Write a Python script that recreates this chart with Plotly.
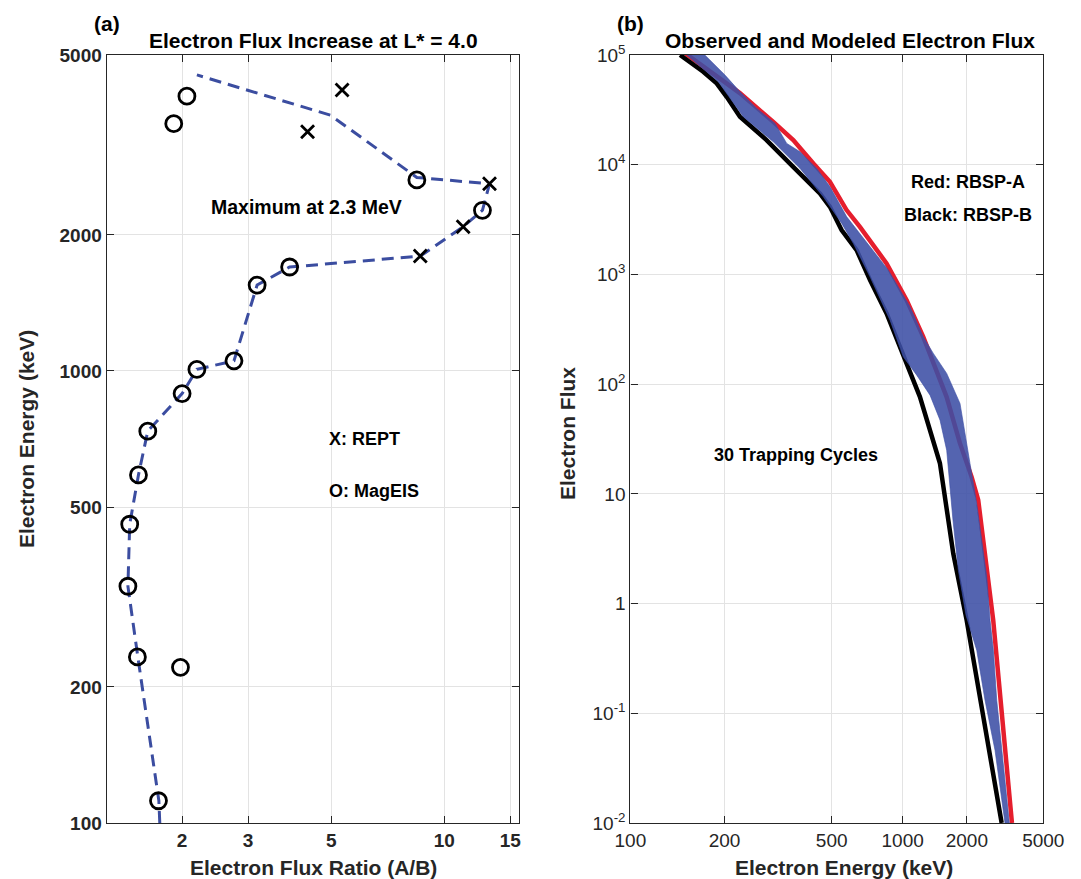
import numpy as np
import plotly.graph_objects as go

# ---------------- Panel (a): flux ratio vs energy ----------------
mageis_ratio = [1.73, 1.52, 1.98, 1.434, 1.45, 1.53, 1.62, 2.0, 2.19, 2.75, 3.17, 3.87, 8.45, 12.64, 1.90, 2.06]
mageis_energy = [112, 233, 221, 334, 458, 589, 736, 891, 1008, 1053, 1549, 1698, 2646, 2267, 3524, 4055]

rept_ratio = [8.63, 11.23, 13.2, 4.32, 5.34]
rept_energy = [1795, 2085, 2594, 3381, 4184]

trend_ratio = [1.744, 1.734, 1.524, 1.434, 1.45, 1.53, 1.62, 2.0, 2.19, 2.75, 3.17, 3.87, 8.63, 11.23, 12.64, 13.2, 8.45, 4.97, 2.19]
trend_energy = [100, 112, 233, 334, 458, 589, 736, 891, 1008, 1053, 1549, 1698, 1795, 2085, 2267, 2594, 2680, 3680, 4518]

ratio_ticks = [2, 3, 5, 10, 15]
energy_ticks_a = [100, 200, 500, 1000, 2000, 5000]

# ---------------- Panel (b): observed and modeled flux ----------------
rbspa_energy = [147, 226, 298, 354, 423, 492, 575, 653, 849, 1042, 1240, 1595, 1849, 2110, 2276, 2711, 3390]
rbspa_flux = [1.05e5, 44950, 24600, 16760, 10270, 6980, 3860, 2716, 1260, 583, 270, 76.6, 29, 14.3, 8.8, 0.706, 0.01]

rbspb_energy = [142.4, 169.5, 188, 203.4, 226.2, 281.6, 353.8, 448.8, 492.1, 548.5, 632.7, 720.6, 849.3, 1042, 1197, 1483, 1717, 1995, 2996]
rbspb_flux = [1.0e5, 70300, 55100, 41600, 27330, 16760, 9570, 5475, 4132, 2534, 1665, 887, 441, 154, 76.6, 19, 2.86, 0.706, 0.01]

# envelope of the 30 trapping-cycle model curves
model_low_energy = [147.7, 190.5, 232.4, 298.1, 375.7, 463.0, 549.3, 613.1, 720.6, 879.3, 1006.8, 1157.6, 1332.8, 1484.6, 1597, 1656, 1712, 1817, 1981, 2238, 2463, 2769, 3118]
model_low_flux = [1.034e5, 56990, 27330, 16170, 9253, 5099, 2917, 1917, 951, 383.2, 177.4, 120.8, 79.4, 46.97, 25.02, 11.58, 5.758, 2.016, 0.7841, 0.3761, 0.1316, 0.04609, 0.00996]
model_high_energy = [169.5, 200.7, 226.3, 259.4, 302.5, 334.4, 375.7, 436.1, 492.4, 575.7, 643.2, 864.3, 1079, 1241, 1381, 1597, 1851, 1996, 2072, 2238, 2370, 2513, 2612, 2715, 2826, 2999, 3285]
model_high_flux = [1.034e5, 65580, 46190, 32610, 23790, 15640, 13110, 9253, 6286, 3350, 2481, 1094, 506.6, 269.9, 190.5, 125.2, 66.7, 28.8, 18.93, 8.175, 4.055, 1.752, 0.7059, 0.3761, 0.1316, 0.04609, 0.00996]

energy_ticks_b = [100, 200, 500, 1000, 2000, 5000]
flux_ticks = [1e-2, 1e-1, 1, 10, 1e2, 1e3, 1e4, 1e5]
flux_ticktext = ["10<sup>-2</sup>", "10<sup>-1</sup>", "1", "10", "10<sup>2</sup>",
                 "10<sup>3</sup>", "10<sup>4</sup>", "10<sup>5</sup>"]

# ---------------- figure ----------------
W, H = 1081, 879
FONT = "Liberation Sans, Arial, Helvetica, sans-serif"
AXC = "#262626"
BLUE = "#3B4DA0"


def fx(p):
    return p / W


def fy(p):
    return 1 - p / H


fig = go.Figure()

# panel (a)
fig.add_trace(go.Scatter(x=trend_ratio, y=trend_energy, mode="lines",
                         line=dict(color=BLUE, width=3, dash="12px,7px"),
                         xaxis="x", yaxis="y"))
fig.add_trace(go.Scatter(x=mageis_ratio, y=mageis_energy, mode="markers",
                         marker=dict(symbol="circle-open", size=16, color="black",
                                     line=dict(width=2.8, color="black")),
                         xaxis="x", yaxis="y"))
fig.add_trace(go.Scatter(x=rept_ratio, y=rept_energy, mode="markers",
                         marker=dict(symbol="x-thin-open", size=13, color="black",
                                     line=dict(width=2.8, color="black")),
                         xaxis="x", yaxis="y"))

# panel (b): the energy axis is a log axis of log10(E)
band_x = list(np.log10(model_low_energy)) + list(np.log10(model_high_energy))[::-1]
band_y = list(model_low_flux) + list(model_high_flux)[::-1]

fig.add_trace(go.Scatter(x=np.log10(rbspa_energy), y=rbspa_flux, mode="lines",
                         line=dict(color="#E51E2D", width=4.5),
                         xaxis="x2", yaxis="y2"))
fig.add_trace(go.Scatter(x=np.log10(rbspb_energy), y=rbspb_flux, mode="lines",
                         line=dict(color="black", width=4.5),
                         xaxis="x2", yaxis="y2"))
fig.add_trace(go.Scatter(x=band_x, y=band_y, mode="lines", fill="toself",
                         fillcolor="rgba(60,78,165,0.88)",
                         line=dict(color="rgba(60,78,165,0.6)", width=1),
                         xaxis="x2", yaxis="y2"))

axis_common = dict(showline=True, linecolor=AXC, linewidth=1.2, mirror="ticks",
                   ticks="inside", ticklen=7, tickwidth=1.2, tickcolor=AXC,
                   showgrid=True, gridcolor="#e3e3e3", gridwidth=1, zeroline=False,
                   automargin=False)

ydom = [1 - 823 / H, 1 - 55 / H]

fig.update_layout(
    width=W, height=H, margin=dict(l=0, r=0, t=0, b=0, pad=0, autoexpand=False),
    paper_bgcolor="white", plot_bgcolor="white", showlegend=False,
    font=dict(family=FONT, color=AXC),
    xaxis=dict(domain=[fx(106.7), fx(519.3)], type="log", range=[0.1, 1.2],
               tickvals=ratio_ticks, ticktext=[str(v) for v in ratio_ticks],
               tickfont=dict(size=19, weight="bold", color=AXC), anchor="y",
               **axis_common),
    yaxis=dict(domain=ydom, type="log", range=[2, np.log10(5000)],
               tickvals=energy_ticks_a, ticktext=[str(v) for v in energy_ticks_a],
               tickfont=dict(size=19, weight="bold", color=AXC), anchor="x",
               **axis_common),
    xaxis2=dict(domain=[fx(630.4), fx(1043.3)], type="log",
                range=[np.log10(2), np.log10(np.log10(5000))],
                tickvals=list(np.log10(energy_ticks_b)),
                ticktext=[str(v) for v in energy_ticks_b],
                tickfont=dict(size=19, color=AXC), anchor="y2",
                **axis_common),
    yaxis2=dict(domain=ydom, type="log", range=[-2, 5],
                tickvals=flux_ticks, ticktext=flux_ticktext,
                tickfont=dict(size=19, color=AXC), anchor="x2",
                **axis_common),
)


def note(text, x, y, size=18, color="black", xanchor="center", angle=0):
    fig.add_annotation(text=text, x=fx(x), y=fy(y), xref="paper", yref="paper",
                       showarrow=False, xanchor=xanchor, yanchor="middle",
                       textangle=angle,
                       font=dict(family=FONT, size=size, color=color, weight="bold"))


note("(a)", 107, 23, size=21)
note("Electron Flux Increase at L* = 4.0", 313, 41, size=21)
note("Maximum at 2.3 MeV", 306, 207, size=19.5)
note("X: REPT", 327, 439, xanchor="left")
note("O: MagEIS", 327, 491, xanchor="left")
note("Electron Energy (keV)", 26, 439, size=21, color=AXC, angle=-90)
note("Electron Flux Ratio (A/B)", 313, 867, size=21, color=AXC)

note("(b)", 630, 23, size=21)
note("Observed and Modeled Electron Flux", 850, 41, size=21)
note("Red: RBSP-A", 968, 182)
note("Black: RBSP-B", 968, 215)
note("30 Trapping Cycles", 796, 455)
note("Electron Flux", 567, 434, size=21, color=AXC, angle=-90)
note("Electron Energy (keV)", 844, 867, size=21, color=AXC)

fig.write_html("out.html")
